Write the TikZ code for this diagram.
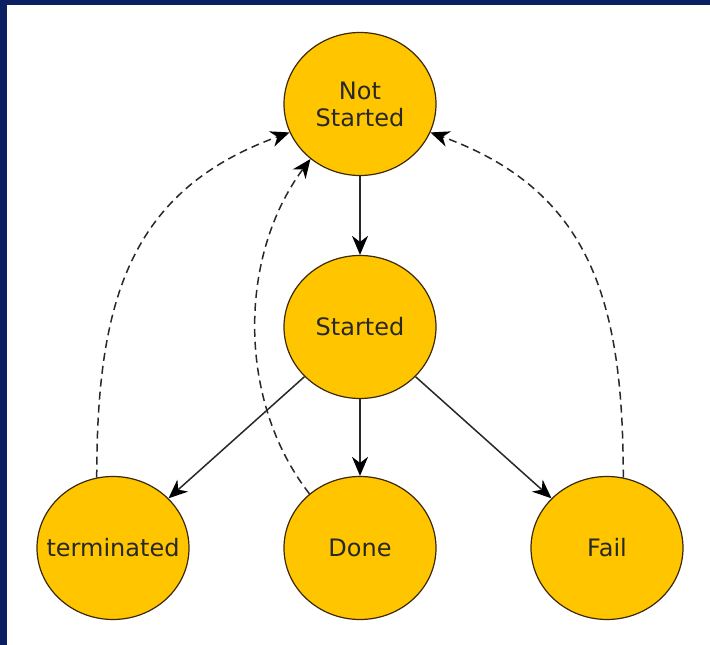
\documentclass[tikz,border=0pt]{standalone}
\usepackage{fontspec}
\setmainfont{DejaVu Sans}
\usetikzlibrary{shapes.geometric,arrows.meta}
\definecolor{frame}{RGB}{11,31,99}
\definecolor{statefill}{RGB}{255,198,0}
\definecolor{stateline}{RGB}{60,40,10}
\definecolor{ink}{RGB}{40,40,40}
\tikzset{
  state/.style={ellipse, draw=stateline, line width=1.2pt, fill=statefill,
    minimum width=152pt, minimum height=143pt, inner sep=0pt,
    align=center, text=ink, font=\fontsize{24}{27}\selectfont},
  trans/.style={draw=ink, line width=1.5pt,
    -{Stealth[length=19pt,width=16pt,inset=6pt,black]}},
  back/.style={trans, dash pattern=on 8pt off 5pt}
}
\begin{document}
\begin{tikzpicture}[x=1pt,y=1pt]
  % page area with the dark frame along the top and left edges
  \useasboundingbox (0,0) rectangle (710,645);
  \fill[white] (0,0) rectangle (710,645);
  \fill[frame] (0,0) rectangle (7,645);
  \fill[frame] (0,640) rectangle (710,645);

  % states (labels boxed at zero width so the ellipses keep one size)
  \node[state] (ns) at (360,541) {Not\\Started};
  \node[state] (st) at (360,318) {Started};
  \node[state] (te) at (113,97) {\makebox[0pt]{terminated}};
  \node[state] (do) at (360,97) {Done};
  \node[state] (fa) at (607,97) {Fail};

  % forward transitions
  \draw[trans] (ns) -- (st);
  \draw[trans] (st) -- (te);
  \draw[trans] (st) -- (do);
  \draw[trans] (st) -- (fa);

  % transitions back to the initial state
  \draw[back] (te.103) .. controls +(0,177) and +(-160,-58) .. (ns.202);
  \draw[back] (do.133) .. controls +(-72,92) and +(-73,-98) .. (ns.228);
  \draw[back] (fa.77) .. controls +(0,177) and +(160,-58) .. (ns.338);
\end{tikzpicture}
\end{document}
